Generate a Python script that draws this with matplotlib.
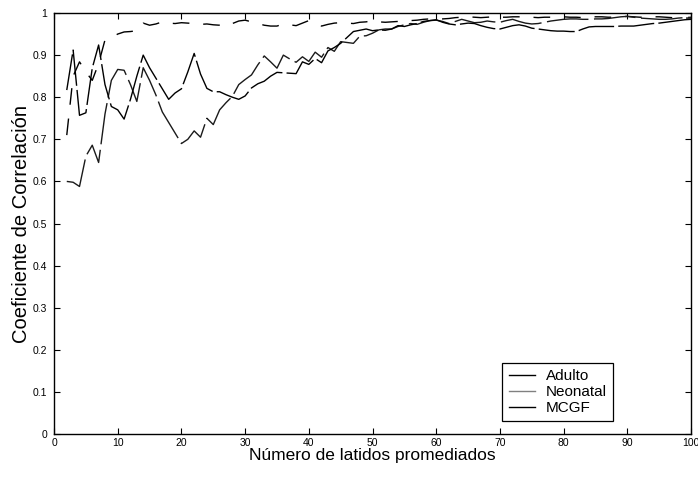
import numpy as np
import matplotlib
matplotlib.use("Agg")
import matplotlib.pyplot as plt

plt.rcParams['font.family'] = ['Liberation Sans', 'DejaVu Sans']
plt.rcParams['lines.scale_dashes'] = False

# numero de latidos promediados
latidos = list(range(2, 101))

adulto = [0.71, 0.85, 0.884, 0.86, 0.84, 0.88, 0.936, 0.942, 0.95, 0.955,
          0.956, 0.958, 0.976, 0.971, 0.974, 0.979, 0.976, 0.975, 0.977, 0.976,
          0.975, 0.973, 0.974, 0.972, 0.971, 0.968, 0.975, 0.981, 0.983, 0.979,
          0.975, 0.971, 0.969, 0.969, 0.974, 0.972, 0.970, 0.976, 0.982, 0.975,
          0.969, 0.973, 0.976, 0.977, 0.976, 0.975, 0.978, 0.979, 0.982, 0.979,
          0.978, 0.979, 0.980, 0.981, 0.982, 0.983, 0.985, 0.986, 0.987, 0.986,
          0.987, 0.989, 0.990, 0.991, 0.990, 0.989, 0.990, 0.991, 0.990, 0.990,
          0.991, 0.991, 0.990, 0.990, 0.989, 0.990, 0.990, 0.991, 0.991, 0.990,
          0.990, 0.989, 0.990, 0.991, 0.991, 0.990, 0.990, 0.991, 0.992, 0.991,
          0.990, 0.990, 0.991, 0.991, 0.990, 0.989, 0.989, 0.988, 0.988]

neonatal = [0.60, 0.598, 0.588, 0.66, 0.686, 0.645, 0.76, 0.84, 0.866, 0.864,
            0.83, 0.79, 0.87, 0.84, 0.805, 0.765, 0.74, 0.715, 0.69, 0.70,
            0.72, 0.705, 0.75, 0.735, 0.77, 0.787, 0.802, 0.83, 0.842, 0.853,
            0.877, 0.898, 0.884, 0.869, 0.90, 0.891, 0.883, 0.896, 0.885, 0.907,
            0.895, 0.918, 0.909, 0.932, 0.93, 0.928, 0.945, 0.946, 0.952, 0.96,
            0.962, 0.962, 0.968, 0.972, 0.975, 0.973, 0.978, 0.982, 0.983, 0.98,
            0.975, 0.98, 0.985, 0.981, 0.977, 0.978, 0.981, 0.979, 0.978, 0.982,
            0.985, 0.98, 0.976, 0.974, 0.975, 0.978, 0.981, 0.983, 0.985, 0.986,
            0.986, 0.985, 0.985, 0.986, 0.986, 0.987, 0.989, 0.991, 0.992, 0.99,
            0.988, 0.987, 0.986, 0.985, 0.985, 0.986, 0.988, 0.989, 0.99]

mcgf = [0.817, 0.912, 0.757, 0.763, 0.869, 0.924, 0.83, 0.778, 0.77, 0.748,
        0.795, 0.85, 0.90, 0.87, 0.845, 0.82, 0.795, 0.81, 0.82, 0.86,
        0.904, 0.855, 0.821, 0.813, 0.813, 0.806, 0.80, 0.795, 0.803, 0.822,
        0.832, 0.838, 0.85, 0.859, 0.858, 0.857, 0.856, 0.884, 0.878, 0.892,
        0.882, 0.91, 0.918, 0.928, 0.942, 0.956, 0.959, 0.962, 0.958, 0.96,
        0.959, 0.962, 0.97, 0.968, 0.972, 0.975, 0.98, 0.982, 0.984, 0.978,
        0.974, 0.972, 0.974, 0.976, 0.975, 0.97, 0.966, 0.963, 0.962, 0.966,
        0.97, 0.972, 0.969, 0.964, 0.962, 0.96, 0.958, 0.957, 0.957, 0.956,
        0.956, 0.962, 0.967, 0.968, 0.968, 0.968, 0.968, 0.969, 0.969, 0.969,
        0.971, 0.973, 0.975, 0.976, 0.978, 0.98, 0.982, 0.984, 0.985]

fig = plt.figure(figsize=(6.98, 4.91), dpi=100)
ax = fig.add_axes([0.0774, 0.116, 0.9126, 0.8575])

ax.plot(latidos, adulto, color='black', lw=1.0, dashes=(12, 10), label='Adulto')
ax.plot(latidos, neonatal, color='#1a1a1a', lw=1.0, dashes=(30, 4), label='Neonatal')
ax.plot(latidos, mcgf, color='black', lw=1.0, dashes=(26, 3), dash_capstyle='butt',
        label='MCGF')

ax.set_xlim(0, 100)
ax.set_ylim(0, 1)
ax.set_xticks(np.arange(0, 101, 10))
ax.set_yticks(np.arange(0, 1.01, 0.1))
ax.set_yticklabels(['0', '0.1', '0.2', '0.3', '0.4', '0.5', '0.6', '0.7', '0.8', '0.9', '1'])
ax.tick_params(direction='in', top=True, right=True, length=4, width=0.8,
               labelsize=7.5)
ax.tick_params(axis='y', pad=5)
ax.tick_params(axis='x', pad=3)
for sp in ax.spines.values():
    sp.set_linewidth(1.0)

ax.set_xlabel('Número de latidos promediados', fontsize=12.5, labelpad=0)
ax.set_ylabel('Coeficiente de Correlación', fontsize=14.5, labelpad=1)

leg = ax.legend(loc='lower left', bbox_to_anchor=(0.704, 0.031), borderaxespad=0,
                fancybox=False, edgecolor='black', framealpha=1, fontsize=11,
                handlelength=1.7, labelspacing=0.12, borderpad=0.4,
                handletextpad=0.75)
leg.get_frame().set_linewidth(0.9)
for h in leg.get_lines():
    h.set_linestyle('-')
leg.get_lines()[1].set_color('gray')

fig.savefig('out.png', dpi=100)
